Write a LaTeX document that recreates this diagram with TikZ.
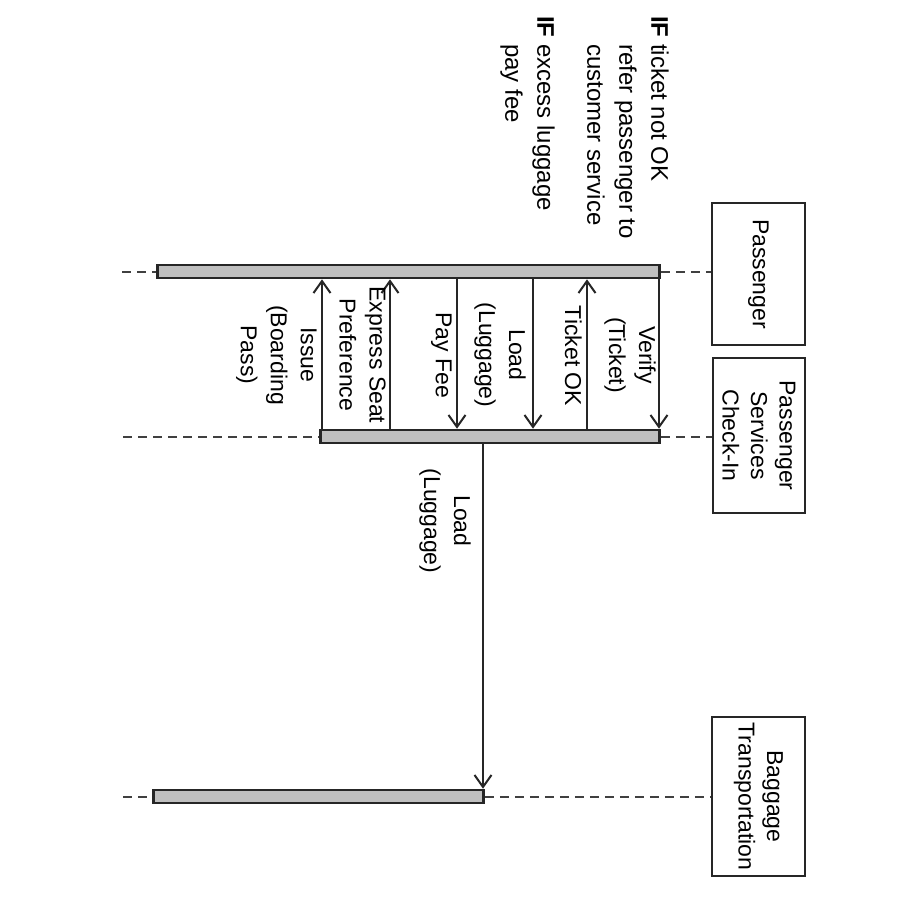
\documentclass[tikz,border=0pt]{standalone}
\usepackage{fontspec}
\setmainfont{Liberation Sans}
\usetikzlibrary{arrows.meta}
\begin{document}
\begin{tikzpicture}[x=1pt,y=-1pt,
  lab/.style={rotate=-90, font=\fontsize{23}{30}\selectfont, align=center, inner sep=0pt, anchor=north},
  actor/.style={draw, line width=2.2pt, black!85, text=black, rotate=-90, font=\fontsize{23}{28.5}\selectfont, align=center, inner sep=0pt},
  bar/.style={draw=black!85, line width=2.6pt, fill=gray!50, inner sep=0pt, minimum height=13pt},
  life/.style={line width=2pt, dash pattern=on 9pt off 6pt, black!75},
  msg/.style={line width=2pt, black!85, -{Straight Barb[length=12pt,width=17pt]}},
  note/.style={rotate=-90, font=\fontsize{24}{32}\selectfont, align=left, inner sep=0pt, anchor=north west}
]
\useasboundingbox[fill=white] (0,0) rectangle (900,900);

% activation bars
\node[bar, minimum width=502pt] (pbar) at (408.5,271.5) {};
\node[bar, minimum width=339pt] (cbar) at (490,436.5) {};
\node[bar, minimum width=330pt] (bbar) at (318.5,796.5) {};

% actors
\node[actor, minimum width=142pt, minimum height=93pt] (pbox) at (758.5,274) {Passenger};
\node[actor, minimum width=155pt, minimum height=92pt] (cbox) at (759,435.5) {Passenger\\Services\\Check-In};
\node[actor, minimum width=159pt, minimum height=93pt] (bbox) at (758.5,796.5) {Baggage\\Transportation};

% lifelines
\coordinate (pl) at (122,271.5);
\coordinate (cl) at (123,436.5);
\coordinate (bl) at (123,796.5);
\draw[life] (pl) -- (pbar.west);
\draw[life] (pbar.east) -- (pbar.east -| pbox.south);
\draw[life] (cl) -- (cbar.west);
\draw[life] (cbar.east) -- (cbar.east -| cbox.south);
\draw[life] (bl) -- (bbar.west);
\draw[life] (bbar.east) -- (bbar.east -| bbox.south);

% message x positions
\coordinate (x1) at (659,0);
\coordinate (x2) at (587,0);
\coordinate (x3) at (533,0);
\coordinate (x4) at (457,0);
\coordinate (x5) at (390,0);
\coordinate (x6) at (322,0);
\coordinate (x7) at (483,0);

\draw[msg] (x1 |- pbar.south) -- (x1 |- cbar.north);
\draw[msg] (x2 |- cbar.north) -- (x2 |- pbar.south);
\draw[msg] (x3 |- pbar.south) -- (x3 |- cbar.north);
\draw[msg] (x4 |- pbar.south) -- (x4 |- cbar.north);
\draw[msg] (x5 |- cbar.north) -- (x5 |- pbar.south);
\draw[msg] (x6 |- cbar.north) -- (x6 |- pbar.south);
\draw[msg] (x7 |- cbar.south) -- (x7 |- bbar.north);

% labels
\node[lab] (l1) at (656,355) {Verify\\(Ticket)};
\node[lab] (l2) at (582,356) {Ticket OK};
\node[lab] (l3) at (526,355) {Load\\(Luggage)};
\node[lab] (l4) at (452,355) {Pay Fee};
\node[lab] (l5) at (386,355) {Express Seat\\Preference};
\node[lab] (l6) at (317,355) {Issue\\(Boarding\\Pass)};
\node[lab] (l7) at (471,521) {Load\\(Luggage)};

% note
\node[note] (n1) at (669,16) {\textbf{IF} ticket not OK\\\hphantom{\textbf{IF}\ }refer passenger to\\\hphantom{\textbf{IF}\ }customer service\\[18pt]\textbf{IF} excess luggage\\\hphantom{\textbf{IF}\ }pay fee};
\end{tikzpicture}
\end{document}
